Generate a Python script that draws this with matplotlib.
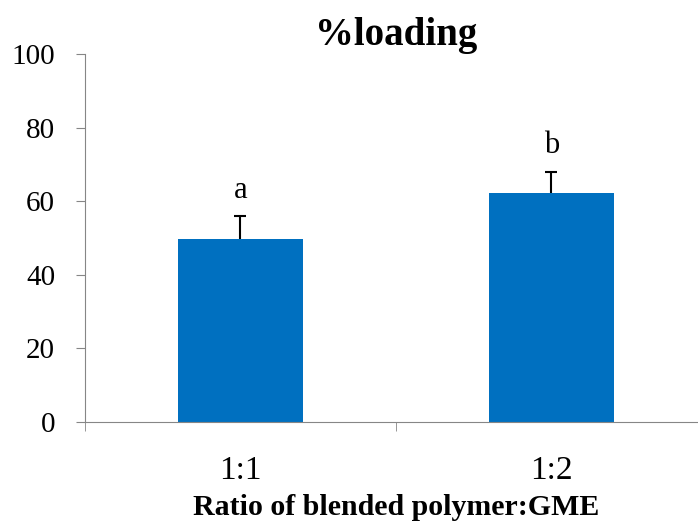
import matplotlib.pyplot as plt

categories = ['1:1', '1:2']
loading = [49.7, 62.1]
errors = [6.3, 5.9]
letters = ['a', 'b']

plt.rcParams['font.family'] = ['Liberation Serif', 'DejaVu Serif']

fig = plt.figure(figsize=(6.98, 5.22), dpi=100)
# axis runs a little past the right edge, as in the original
ax = fig.add_axes([0.1218, 0.1916, 0.891, 0.705])

x = list(range(len(categories)))
tops = [v + e for v, e in zip(loading, errors)]
ax.bar(x, loading, width=0.4, color='#0070C0')
# upper error bars only
ax.errorbar(x, loading, yerr=[[0] * len(errors), errors], fmt='none',
            ecolor='black', elinewidth=1.5, capsize=0)
ax.plot(x, tops, linestyle='none', marker='_', markersize=8.6,
        markeredgewidth=1.5, color='black')

for xi, t, s in zip(x, tops, letters):
    ax.text(xi, t + 7, s, ha='center', va='center', fontsize=22)

ax.set_xlim(-0.5, len(categories) - 0.5)
ax.set_ylim(0, 100)
ax.set_yticks(range(0, 101, 20))
ax.set_xticks(x)
ax.set_xticklabels(categories)
ax.set_xticks([-0.5, 0.5, 1.5], minor=True)

ax.spines['top'].set_visible(False)
ax.spines['right'].set_visible(False)
ax.spines['left'].set_color('#868686')
ax.spines['bottom'].set_color('#868686')
ax.tick_params(axis='y', labelsize=21, length=6.5, color='#868686', pad=15)
ax.tick_params(axis='x', which='major', labelsize=24, length=0, pad=24)
ax.tick_params(axis='x', which='minor', length=6.5, color='#868686')

ax.set_title('%loading', fontsize=28, fontweight='bold', pad=6)
ax.set_xlabel('Ratio of blended polymer:GME', fontsize=21.5, fontweight='bold', labelpad=6)

plt.savefig('out.png', dpi=100)
